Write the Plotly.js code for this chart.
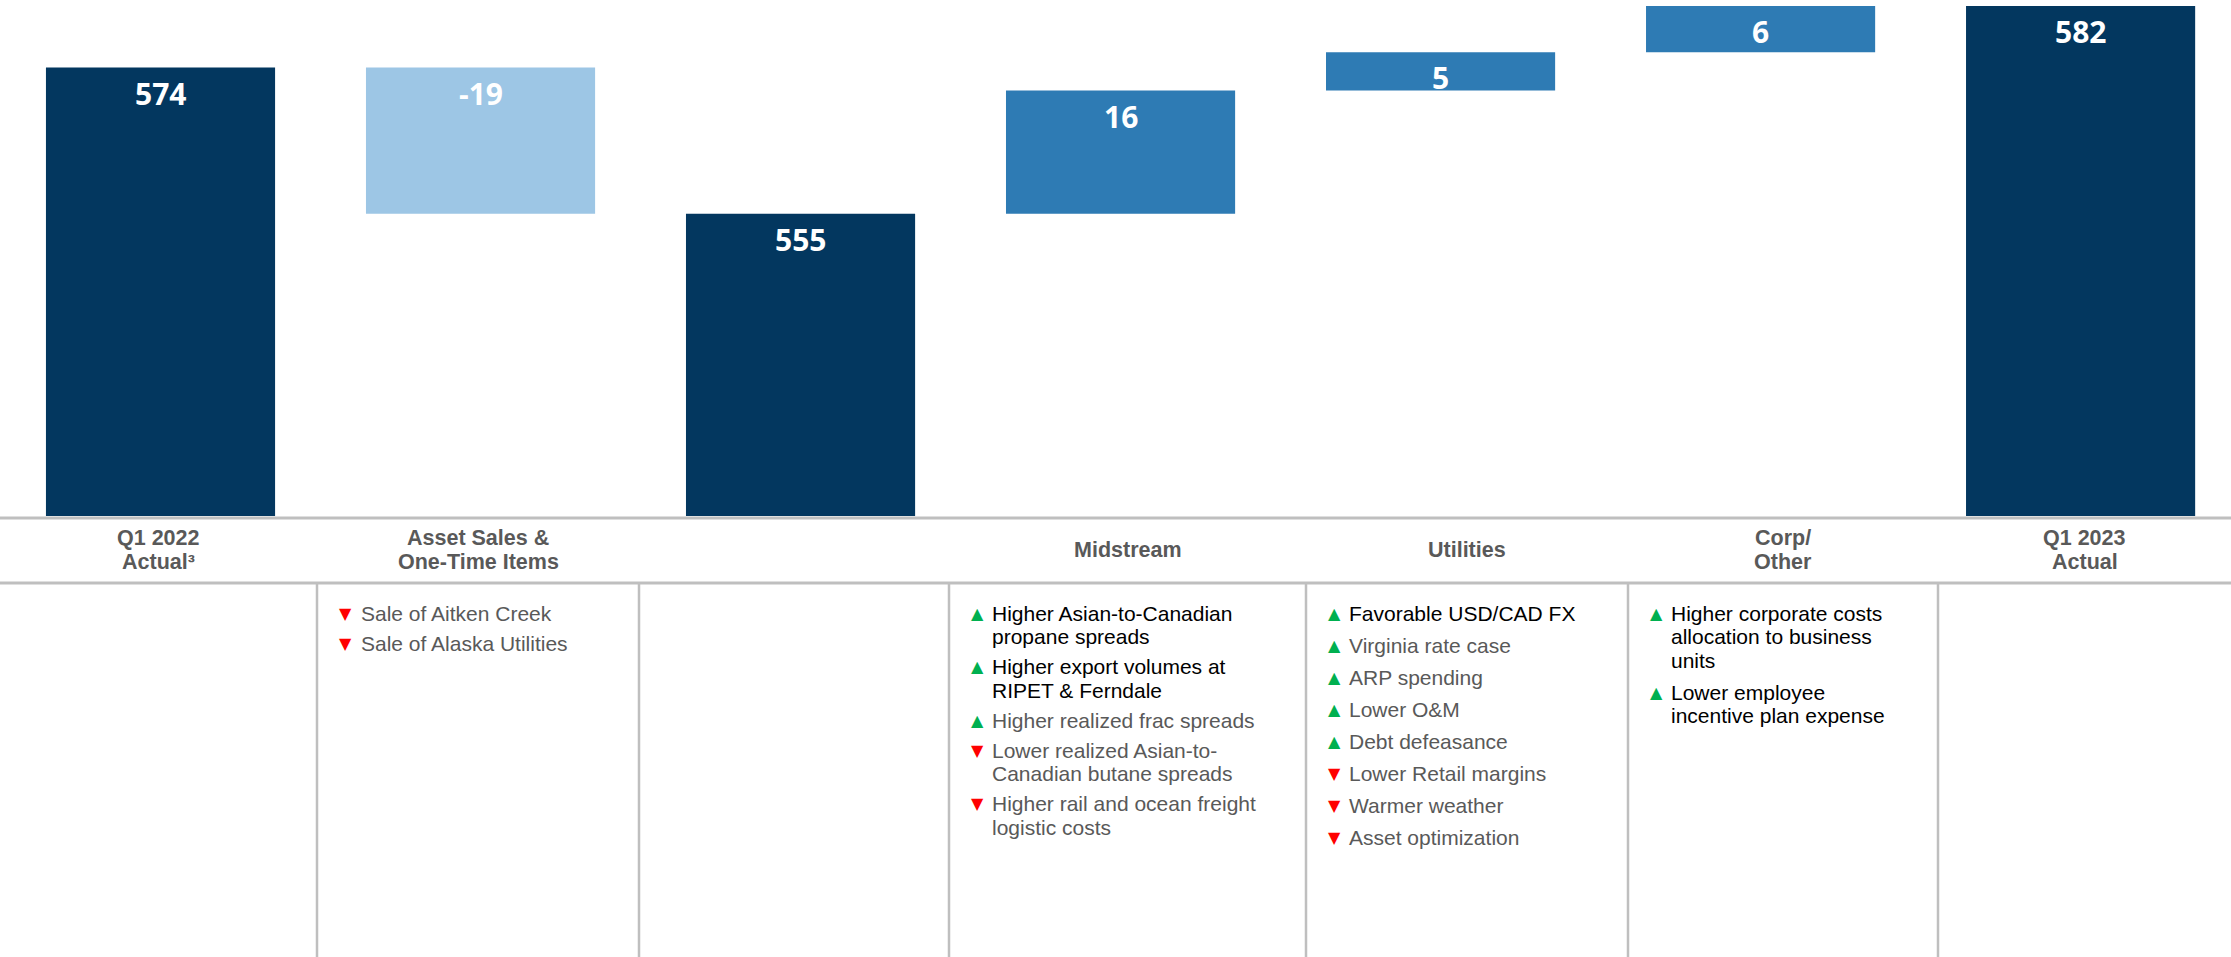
<!DOCTYPE html>
<html>
<head>
<meta charset="utf-8">
<script src="https://cdn.plot.ly/plotly-3.0.1.min.js"></script>
<style>
  html, body { margin: 0; padding: 0; background: #fff; }
  #plot { width: 2231px; height: 957px; }
</style>
</head>
<body>
<div id="plot"></div>
<script>
// Adjusted EBITDA bridge, Q1 2022 -> Q1 2023
var categories = ["Q1 2022 Actual", "Asset Sales & One-Time Items", "Subtotal", "Midstream", "Utilities", "Corp/Other", "Q1 2023 Actual"];
var measures = ["absolute", "relative", "total", "relative", "relative", "relative", "total"];
var values = [574, -19, 555, 16, 5, 6, 582];

// header row under the bars, one entry per line
var headerLines = [
  ["Q1 2022", "Actual\u00B3"],
  ["Asset Sales &", "One-Time Items"],
  [],
  ["Midstream"],
  ["Utilities"],
  ["Corp/", "Other"],
  ["Q1 2023", "Actual"]
];

// drivers: [direction, lines, dark text]
var assetDrivers = [
  ["down", ["Sale of Aitken Creek"], false],
  ["down", ["Sale of Alaska Utilities"], false]
];
var midstreamDrivers = [
  ["up", ["Higher Asian-to-Canadian", "propane spreads"], true],
  ["up", ["Higher export volumes at", "RIPET & Ferndale"], true],
  ["up", ["Higher realized frac spreads"], false],
  ["down", ["Lower realized Asian-to-", "Canadian butane spreads"], false],
  ["down", ["Higher rail and ocean freight", "logistic costs"], false]
];
var utilitiesDrivers = [
  ["up", ["Favorable USD/CAD FX"], true],
  ["up", ["Virginia rate case"], false],
  ["up", ["ARP spending"], false],
  ["up", ["Lower O&M"], false],
  ["up", ["Debt defeasance"], false],
  ["down", ["Lower Retail margins"], false],
  ["down", ["Warmer weather"], false],
  ["down", ["Asset optimization"], false]
];
var corpDrivers = [
  ["up", ["Higher corporate costs", "allocation to business", "units"], true],
  ["up", ["Lower employee", "incentive plan expense"], true]
];

var colors = { totals: "#03375F", up: "#2E7BB4", down: "#9DC6E5" };

// page geometry (pixels)
var W = 2231, H = 957, plotBottom = 516;
var colEdges = [0, 317, 639, 949, 1306, 1628, 1938, 2231];
var driverCols = [
  { items: assetDrivers, tri: 345, text: 361, gap: 30 },
  { items: midstreamDrivers, tri: 977, text: 992, gap: 30 },
  { items: utilitiesDrivers, tri: 1334, text: 1349, gap: 32 },
  { items: corpDrivers, tri: 1656, text: 1671, gap: 32 }
];
var TXT = "Liberation Sans";
var ASC = 0.905, DESC = 0.212; // line box of the table font
var lineStep = 23.5;            // line pitch inside a bullet

function px2x(px) { return px / W; }
function px2y(py) { return (plotBottom - py) / plotBottom; }

var trace = {
  type: "waterfall",
  x: categories,
  y: values,
  measure: measures,
  connector: { visible: false },
  increasing: { marker: { color: colors.up } },
  decreasing: { marker: { color: colors.down } },
  totals: { marker: { color: colors.totals } },
  textposition: "none",
  hoverinfo: "none"
};

var annotations = [];

// value labels at the top of each bar
var running = 0;
values.forEach(function (v, i) {
  var top;
  if (measures[i] === "relative") {
    top = Math.max(running, running + v);
    running += v;
  } else {
    top = v;
    running = v;
  }
  annotations.push({
    xref: "x", yref: "y", x: categories[i], y: top,
    yanchor: "top", yshift: -3, showarrow: false,
    text: String(v),
    font: { family: "Open Sans", size: 30, color: "#ffffff", weight: "bold" }
  });
});

// one annotation per text line, placed by its baseline
function lineNote(t, xpx, xanchor, baseline, fs, color, weight) {
  annotations.push({
    xref: "paper", yref: "paper", x: px2x(xpx), y: px2y(baseline - (ASC - DESC) * fs / 2),
    xanchor: xanchor, yanchor: "middle", showarrow: false,
    borderpad: 0, borderwidth: 0,
    text: t,
    font: { family: TXT, size: fs, color: color, weight: weight || "normal" }
  });
}

// header labels
headerLines.forEach(function (lines, i) {
  var cx = (colEdges[i] + colEdges[i + 1]) / 2;
  lines.forEach(function (t, j) {
    lineNote(t, cx, "center", 557 + (j - (lines.length - 1) / 2) * 24, 21.5, "#595959", "bold");
  });
});

// driver bullets
driverCols.forEach(function (col) {
  var base = 620.7;
  col.items.forEach(function (item) {
    var up = item[0] === "up";
    annotations.push({
      xref: "paper", yref: "paper", x: px2x(col.tri), y: px2y(base - 7.5),
      xanchor: "center", yanchor: "middle", showarrow: false,
      borderpad: 0, borderwidth: 0,
      text: up ? "\u25B2" : "\u25BC",
      font: { family: "DejaVu Sans", size: 16, color: up ? "#00B050" : "#FF0000" }
    });
    item[1].forEach(function (t, j) {
      if (j > 0) base += lineStep;
      lineNote(t, col.text, "left", base, 21, item[2] ? "#000000" : "#595959");
    });
    base += col.gap;
  });
});

var shapes = [518, 583].map(function (py) {
  return {
    type: "line", xref: "paper", yref: "paper",
    x0: 0, x1: 1, y0: px2y(py), y1: px2y(py),
    line: { color: "#BFBFBF", width: 3 }
  };
});
colEdges.slice(1, -1).forEach(function (px) {
  shapes.push({
    type: "line", xref: "paper", yref: "paper",
    x0: px2x(px), x1: px2x(px), y0: px2y(583), y1: px2y(H),
    line: { color: "#BFBFBF", width: 2.5 }
  });
});

var layout = {
  width: W,
  height: H,
  margin: { l: 0, r: 0, t: 0, b: H - plotBottom, pad: 0 },
  paper_bgcolor: "#ffffff",
  plot_bgcolor: "#ffffff",
  showlegend: false,
  waterfallgap: 0.284,
  xaxis: { type: "category", range: [-0.5016, 6.47], visible: false, fixedrange: true },
  yaxis: { range: [515.7, 582.78], visible: false, fixedrange: true },
  annotations: annotations,
  shapes: shapes
};

Plotly.newPlot("plot", [trace], layout, { displayModeBar: false, staticPlot: true });
</script>
</body>
</html>
